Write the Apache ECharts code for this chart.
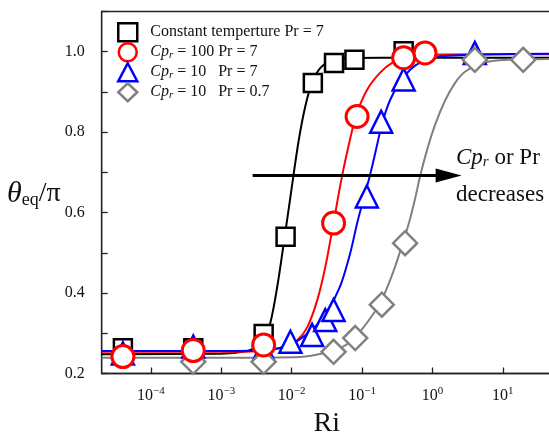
<!DOCTYPE html>
<html>
<head>
<meta charset="utf-8">
<script src="https://cdn.jsdelivr.net/npm/echarts@6/dist/echarts.min.js"></script>
<style>html,body{margin:0;padding:0;background:#fff}#c{width:549px;height:434px}</style>
</head>
<body>
<div id="c"></div>
<script>
// ---- data (Ri, theta_eq/pi) ----
const seriesNames = ['Constant temperture Pr = 7', 'Cp_r = 100 Pr = 7', 'Cp_r = 10   Pr = 7', 'Cp_r = 10   Pr = 0.7'];

const ctRi = [4e-5, 4e-4, 4e-3, 8.2e-3, 0.02, 0.04, 0.078, 0.39];
const ctV  = [0.263, 0.263, 0.298, 0.540, 0.922, 0.972, 0.980, 1.001];

const cp100Ri = [4e-5, 4e-4, 4e-3, 0.0394, 0.085, 0.39, 0.785];
const cp100V  = [0.242, 0.257, 0.271, 0.574, 0.839, 0.985, 0.997];

const cp10Ri = [4e-5, 4e-4, 4e-3, 0.0096, 0.0195, 0.030, 0.0394, 0.117, 0.187, 0.39, 4.0];
const cp10V  = [0.250, 0.267, 0.258, 0.279, 0.296, 0.333, 0.358, 0.640, 0.826, 0.931, 0.997];

const cp10p07Ri = [4e-4, 4e-3, 0.0394, 0.080, 0.191, 0.409, 4.0, 19.5];
const cp10p07V  = [0.229, 0.229, 0.254, 0.288, 0.371, 0.524, 0.980, 0.980];

// fitted curves
const fitCtRi = [2e-5, 1e-3, 2.22e-3, 3.07e-3, 3.99e-3, 5.01e-3, 6.30e-3, 7.66e-3, 9.62e-3, 0.01247, 0.01566, 0.0197, 0.0256, 0.0355, 0.0578, 0.2, 50];
const fitCtV  = [0.248, 0.249, 0.255, 0.265, 0.284, 0.328, 0.420, 0.520, 0.640, 0.775, 0.865, 0.925, 0.960, 0.977, 0.984, 0.985, 0.985];

const fitCp100Ri = [2e-5, 1e-3, 2.61e-3, 5.01e-3, 8.17e-3, 0.01208, 0.01675, 0.02317, 0.0301, 0.0380, 0.0519, 0.0681, 0.0828, 0.1186, 0.181, 0.2767, 0.4365, 1.282, 50];
const fitCp100V  = [0.254, 0.254, 0.255, 0.259, 0.267, 0.283, 0.316, 0.383, 0.465, 0.560, 0.690, 0.785, 0.843, 0.906, 0.948, 0.974, 0.987, 0.993, 0.994];

const fitCp10Ri = [2e-5, 1e-3, 3.61e-3, 9.62e-3, 0.02037, 0.0321, 0.0491, 0.0681, 0.0855, 0.1074, 0.1306, 0.1588, 0.193, 0.2505, 0.3475, 0.482, 0.667, 1.282, 50];
const fitCp10V  = [0.256, 0.256, 0.257, 0.272, 0.312, 0.355, 0.418, 0.500, 0.575, 0.640, 0.695, 0.758, 0.822, 0.880, 0.925, 0.955, 0.973, 0.989, 0.995];

const fitCp10p07Ri = [2e-5, 1e-3, 0.01334, 0.0321, 0.0491, 0.0681, 0.0945, 0.1443, 0.193, 0.2767, 0.384, 0.482, 0.568, 0.667, 0.840, 1.089, 1.508, 2.09, 2.90, 4.72, 9.07, 50];
const fitCp10p07V  = [0.239, 0.239, 0.241, 0.252, 0.263, 0.279, 0.305, 0.348, 0.385, 0.452, 0.527, 0.585, 0.635, 0.690, 0.756, 0.818, 0.878, 0.922, 0.950, 0.970, 0.979, 0.982];

const xTickExps = [-4, -3, -2, -1, 0, 1];
const yTickLabels = ['0.2', '0.4', '0.6', '0.8', '1.0'];
const xRange = [2e-5, 50];
const yRange = [0.2, 1.1];
const arrowRi = [2.79e-3, 1.70];
const arrowV = 0.692;

// ---- build ----
const FONT = 'Liberation Serif';
const lg = Math.log10;
const pts = (xs, ys) => xs.map((x, i) => [lg(x), ys[i]]);

const colors = ['#000000', '#ff0000', '#0000ff', '#808080'];
const symbols = ['rect', 'circle', 'triangle', 'diamond'];
const sizes = [18, 22, 22, 24];
const markerData = [pts(ctRi, ctV), pts(cp100Ri, cp100V), pts(cp10Ri, cp10V), pts(cp10p07Ri, cp10p07V)];
const fitData = [pts(fitCtRi, fitCtV), pts(fitCp100Ri, fitCp100V), pts(fitCp10Ri, fitCp10V), pts(fitCp10p07Ri, fitCp10p07V)];
const markerZ = [5, 8, 6, 7];

const series = [];
fitData.forEach((d, i) => {
  const s = {
    type: 'line', data: d, smooth: 0.3, showSymbol: false, symbol: 'none',
    lineStyle: { color: colors[i], width: 2 }, z: 2, silent: true
  };
  if (i === 0) {
    s.markLine = {
      silent: true, symbol: ['none', 'triangle'], symbolSize: [14, 26],
      label: { show: false },
      lineStyle: { color: '#000', width: 3, type: 'solid' },
      data: [[{ coord: [lg(arrowRi[0]), arrowV] }, { coord: [lg(arrowRi[1]), arrowV] }]],
      z: 3
    };
  }
  series.push(s);
});
markerData.forEach((d, i) => {
  series.push({
    name: seriesNames[i], type: 'scatter', data: d, symbol: symbols[i], symbolSize: sizes[i],
    itemStyle: { color: '#fff', borderColor: colors[i], borderWidth: i === 1 ? 3 : 2.5, opacity: 1 },
    z: markerZ[i]
  });
});

const chart = echarts.init(document.getElementById('c'), null, { renderer: 'canvas' });
chart.setOption({
  animation: false,
  backgroundColor: '#fff',
  grid: { left: 101.7, top: 11.5, right: -3, bottom: 60.5, containLabel: false, outerBoundsMode: 'none', show: true, borderColor: '#222', borderWidth: 1.3, backgroundColor: 'transparent' },
  legend: {
    orient: 'vertical', left: 117, top: 22, padding: 0, itemWidth: 19, itemHeight: 18, itemGap: -0.5,
    data: seriesNames,
    itemStyle: { borderWidth: 2.5 },
    formatter: n => '{g|}' + (n.startsWith('Cp_r') ? '{i|Cp}{s|r}{n|' + n.slice(4) + '}' : '{n|' + n + '}'),
    textStyle: {
      fontFamily: FONT, fontSize: 16, color: '#111',
      rich: {
        g: { width: 8, lineHeight: 16 },
        n: { fontFamily: FONT, fontSize: 16, color: '#111', lineHeight: 16 },
        i: { fontFamily: FONT, fontSize: 16, fontStyle: 'italic', color: '#111', lineHeight: 16 },
        s: { fontFamily: FONT, fontSize: 11, fontStyle: 'italic', color: '#111', lineHeight: 10, padding: [6, 0, 0, 0] }
      }
    }
  },
  xAxis: {
    type: 'value', min: lg(xRange[0]), max: lg(xRange[1]),
    name: 'Ri', nameLocation: 'middle', nameGap: 36,
    nameTextStyle: { fontFamily: FONT, fontSize: 28, color: '#111' },
    axisLine: { onZero: false, lineStyle: { color: '#222', width: 1.3 } },
    axisTick: { inside: true, length: 6, customValues: xTickExps, lineStyle: { color: '#222', width: 1.3 } },
    splitLine: { show: false },
    axisLabel: {
      customValues: xTickExps, margin: 12,
      formatter: v => '{b|10}{s|' + (v < 0 ? '\u2212' + (-v) : v) + '}',
      rich: {
        b: { fontFamily: FONT, fontSize: 16, color: '#111' },
        s: { fontFamily: FONT, fontSize: 11, color: '#111', padding: [0, 0, 9, 0] }
      }
    }
  },
  yAxis: {
    type: 'value', min: yRange[0], max: yRange[1], interval: 0.1,
    axisLine: { show: true, onZero: false, lineStyle: { color: '#222', width: 1.3 } },
    axisTick: { inside: true, length: 6, lineStyle: { color: '#222', width: 1.3 } },
    splitLine: { show: false },
    axisLabel: {
      margin: 17, fontFamily: FONT, fontSize: 16, color: '#111',
      formatter: v => { const k = Math.round(v * 10); return (k % 2 === 0 && k <= 10) ? yTickLabels[(k - 2) / 2] : ''; }
    }
  },
  graphic: [
    {
      type: 'text', left: 7, top: 179,
      style: {
        text: '{t|θ}{e|eq}{p|/π}',
        rich: {
          t: { fontFamily: FONT, fontSize: 30, fontStyle: 'italic', fill: '#111' },
          e: { fontFamily: FONT, fontSize: 18, fill: '#111', padding: [12, 0, 0, 0] },
          p: { fontFamily: FONT, fontSize: 28, fill: '#111' }
        }
      }
    },
    {
      type: 'text', left: 456, top: 146,
      style: {
        text: '{i|Cp}{s|r}{n| or Pr}',
        rich: {
          i: { fontFamily: FONT, fontSize: 23, fontStyle: 'italic', fill: '#111' },
          s: { fontFamily: FONT, fontSize: 15, fontStyle: 'italic', fill: '#111', padding: [10, 0, 0, 0] },
          n: { fontFamily: FONT, fontSize: 23, fill: '#111' }
        }
      }
    },
    {
      type: 'text', left: 456, top: 183,
      style: { text: 'decreases', font: '23px "Liberation Serif"', fill: '#111' }
    }
  ],
  series: series
});
</script>
</body>
</html>
